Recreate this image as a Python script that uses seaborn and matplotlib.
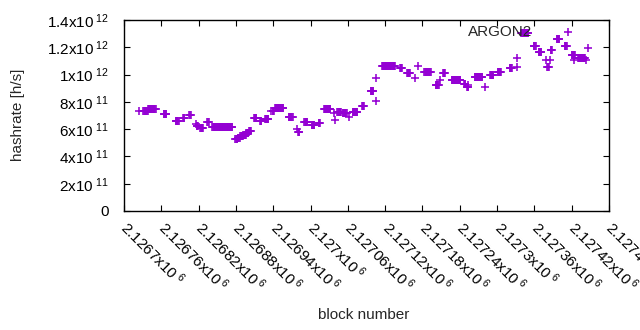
import numpy as np
import pandas as pd
import matplotlib
matplotlib.use("Agg")
import matplotlib.pyplot as plt
import seaborn as sns

# piecewise-constant hashrate runs (first block, last block, hashrate in units of 1e12 h/s)
seg_start = [2126731, 2126739, 2126764, 2126783, 2126795, 2126805, 2126817, 2126823,
             2126834, 2126842, 2126879, 2126883, 2126887, 2126892, 2126897, 2126901,
             2126909, 2126919, 2126927, 2126939, 2126943, 2126965, 2126980, 2126990,
             2127002, 2127013, 2127022, 2127043, 2127052, 2127068, 2127083, 2127097,
             2127115, 2127144, 2127155, 2127183, 2127201, 2127213, 2127227, 2127247,
             2127252, 2127264, 2127289, 2127301, 2127320, 2127339, 2127359, 2127367,
             2127381, 2127386, 2127396, 2127409, 2127420, 2127430]
seg_end = [2126738, 2126751, 2126768, 2126788, 2126797, 2126807, 2126819, 2126827,
           2126836, 2126874, 2126882, 2126886, 2126891, 2126896, 2126900, 2126904,
           2126913, 2126921, 2126932, 2126941, 2126956, 2126971, 2126982, 2126995,
           2127006, 2127015, 2127032, 2127049, 2127058, 2127075, 2127086, 2127101,
           2127136, 2127147, 2127160, 2127193, 2127206, 2127216, 2127241, 2127249,
           2127254, 2127276, 2127294, 2127306, 2127324, 2127350, 2127362, 2127371,
           2127383, 2127388, 2127400, 2127412, 2127425, 2127441]
seg_rate = [0.735, 0.748, 0.711, 0.663, 0.685, 0.707, 0.625, 0.605,
            0.649, 0.616, 0.530, 0.537, 0.547, 0.556, 0.570, 0.585,
            0.680, 0.660, 0.678, 0.730, 0.755, 0.690, 0.580, 0.649,
            0.627, 0.645, 0.751, 0.726, 0.715, 0.722, 0.770, 0.876,
            1.065, 1.045, 1.015, 1.022, 0.920, 1.010, 0.960, 0.930,
            0.910, 0.985, 1.000, 1.020, 1.045, 1.305, 1.210, 1.169,
            1.058, 1.180, 1.264, 1.206, 1.140, 1.118]

# isolated blocks
pt_block = [2126724, 2126815, 2126936, 2126978, 2127038, 2127039, 2127062, 2127105,
            2127105, 2127168, 2127173, 2127208, 2127253, 2127281, 2127332, 2127332,
            2127379, 2127385, 2127424, 2127443, 2127446]
pt_rate = [0.733, 0.638, 0.730, 0.600, 0.720, 0.670, 0.690, 0.806,
           0.975, 0.975, 1.063, 0.960, 0.920, 0.910, 1.120, 1.055,
           1.107, 1.107, 1.107, 1.107, 1.195]

x_ticks = [2126700, 2126760, 2126820, 2126880, 2126940, 2127000, 2127060,
           2127120, 2127180, 2127240, 2127300, 2127360, 2127420, 2127480]
y_ticks = [0, 2e11, 4e11, 6e11, 8e11, 1e12, 1.2e12, 1.4e12]

sns.set_style("ticks")
plt.rcParams["font.family"] = ["Liberation Sans", "DejaVu Sans"]
plt.rcParams["mathtext.fontset"] = "custom"
plt.rcParams["mathtext.rm"] = "Liberation Sans"
plt.rcParams["mathtext.it"] = "Liberation Sans"
plt.rcParams["mathtext.default"] = "regular"

blocks = np.concatenate([np.arange(s, e + 1) for s, e in zip(seg_start, seg_end)]
                        + [np.array(pt_block)])
rates = np.concatenate([np.full(e - s + 1, r) for s, e, r in zip(seg_start, seg_end, seg_rate)]
                       + [np.array(pt_rate)])
df = pd.DataFrame({"block": blocks, "hashrate": rates * 1e12})

fig = plt.figure(figsize=(6.4, 3.3), dpi=100)
ax = fig.add_axes([124 / 640, 1 - 211 / 330, (609 - 124) / 640, (211 - 20) / 330])

sns.scatterplot(data=df, x="block", y="hashrate", marker="+", color="#9400D3",
                s=40, linewidth=1.15, label="ARGON2", ax=ax, legend=False)

ax.set_xlim(x_ticks[0], x_ticks[-1])
ax.set_ylim(0, 1.4e12)


def ylab(v):
    if v == 0:
        return "0"
    e = int(np.floor(np.log10(v) + 1e-9))
    m = v / 10 ** e
    return r"$%gx10^{\ %d}$" % (round(m, 3), e)


ax.set_yticks(y_ticks)
ax.set_yticklabels([ylab(v) for v in y_ticks])
ax.set_xticks(x_ticks)
ax.set_xticklabels([r"$%.6gx10^{\ 6}$" % (v / 1e6) for v in x_ticks],
                   rotation=-45, ha="left", va="center", rotation_mode="anchor")

ax.tick_params(direction="in", length=4, width=0.8, top=True, right=True,
               labelsize=11, colors="black")
ax.tick_params(axis="y", pad=11)
ax.tick_params(axis="x", pad=10)
for sp in ax.spines.values():
    sp.set_visible(True)
    sp.set_linewidth(1.0)
    sp.set_color("black")

ax.set_xlabel("block number", fontsize=11)
ax.set_ylabel("hashrate [h/s]", fontsize=11)
ax.xaxis.set_label_coords(0.495, -0.51)
ax.yaxis.set_label_coords(-0.205, 0.503)

ax.legend(loc="center right", bbox_to_anchor=(583 / 640, 1 - 32 / 330),
          bbox_transform=fig.transFigure, frameon=False, markerfirst=False,
          handlelength=2, handletextpad=1.3, borderpad=0, borderaxespad=0,
          fontsize=11)

fig.savefig("out.png", dpi=100)
